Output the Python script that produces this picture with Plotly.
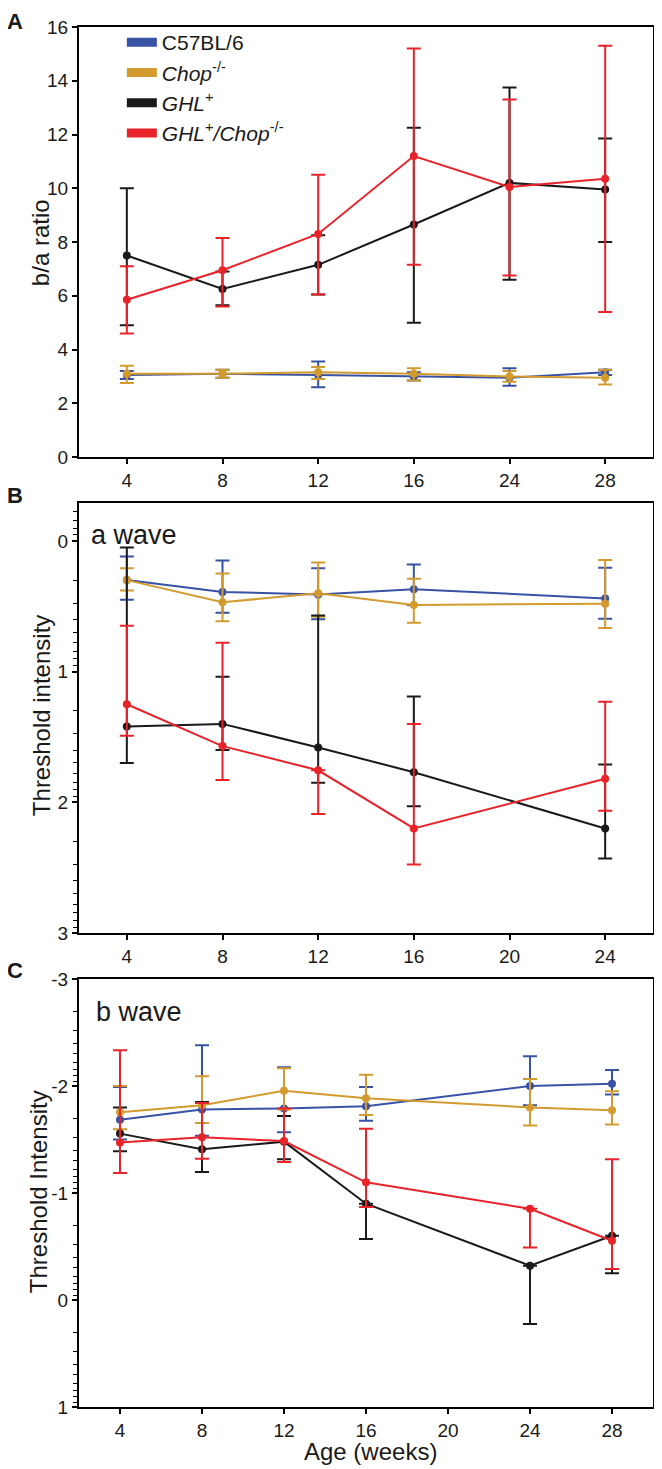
import numpy as np
import plotly.graph_objects as go
from plotly.subplots import make_subplots

# ---- data ----
ages_a = ["4", "8", "12", "16", "24", "28"]
ages_b = [4, 8, 12, 16, 24]
ages_c = [4, 8, 12, 16, 24, 28]

names = ["C57BL/6", "<i>Chop</i><sup>-/-</sup>", "<i>GHL</i><sup>+</sup>",
         "<i>GHL</i><sup>+</sup><i>/Chop</i><sup>-/-</sup>"]
colors = ["#3953a4", "#d39b2e", "#1a1a1a", "#e8232a"]

# panel A: b/a ratio (mean, lower bar end, upper bar end)
a_c57_mean = [3.05, 3.10, 3.05, 3.00, 2.95, 3.15]
a_c57_lo = [2.90, 2.95, 2.60, 2.85, 2.65, 3.05]
a_c57_hi = [3.20, 3.25, 3.55, 3.15, 3.30, 3.25]
a_chop_mean = [3.10, 3.10, 3.15, 3.10, 3.00, 2.95]
a_chop_lo = [2.75, 2.95, 2.90, 2.85, 2.80, 2.70]
a_chop_hi = [3.40, 3.25, 3.35, 3.30, 3.20, 3.25]
a_ghl_mean = [7.50, 6.25, 7.15, 8.65, 10.20, 9.95]
a_ghl_lo = [4.90, 5.65, 6.05, 5.00, 6.60, 8.00]
a_ghl_hi = [10.00, 6.90, 8.25, 12.25, 13.75, 11.85]
a_ghlchop_mean = [5.85, 6.95, 8.30, 11.20, 10.05, 10.35]
a_ghlchop_lo = [4.60, 5.60, 6.05, 7.15, 6.75, 5.40]
a_ghlchop_hi = [7.10, 8.15, 10.50, 15.20, 13.30, 15.30]

# panel B: a wave threshold intensity
b_c57_mean = [0.30, 0.39, 0.41, 0.37, 0.44]
b_c57_lo = [0.12, 0.15, 0.21, 0.18, 0.205]
b_c57_hi = [0.45, 0.55, 0.60, 0.49, 0.595]
b_chop_mean = [0.30, 0.47, 0.40, 0.49, 0.48]
b_chop_lo = [0.21, 0.25, 0.165, 0.29, 0.147]
b_chop_hi = [0.38, 0.615, 0.58, 0.626, 0.666]
b_ghl_mean = [1.42, 1.40, 1.58, 1.77, 2.20]
b_ghl_lo = [0.05, 1.04, 0.57, 1.19, 1.71]
b_ghl_hi = [1.70, 1.60, 1.85, 2.03, 2.43]
b_ghlchop_mean = [1.25, 1.57, 1.755, 2.20, 1.82]
b_ghlchop_lo = [0.65, 0.78, 1.755, 1.40, 1.23]
b_ghlchop_hi = [1.49, 1.83, 2.09, 2.475, 2.065]

# panel C: b wave threshold intensity
c_c57_mean = [-1.685, -1.78, -1.79, -1.81, -2.00, -2.02]
c_c57_lo = [-1.99, -2.38, -2.175, -1.99, -2.277, -2.15]
c_c57_hi = [-1.50, -1.535, -1.567, -1.676, -1.82, -1.92]
c_chop_mean = [-1.754, -1.82, -1.956, -1.885, -1.80, -1.773]
c_chop_lo = [-2.00, -2.09, -2.165, -2.106, -2.065, -1.95]
c_chop_hi = [-1.595, -1.654, -1.78, -1.73, -1.63, -1.64]
c_ghl_mean = [-1.555, -1.41, -1.48, -0.90, -0.32, -0.60]
c_ghl_lo = [-1.80, -1.85, -1.72, -0.90, -0.32, -0.60]
c_ghl_hi = [-1.39, -1.196, -1.315, -0.57, 0.224, -0.25]
c_ghlchop_mean = [-1.473, -1.52, -1.486, -1.10, -0.853, -0.554]
c_ghlchop_lo = [-2.333, -1.84, -1.79, -1.60, -0.853, -1.315]
c_ghlchop_hi = [-1.187, -1.32, -1.29, -0.87, -0.49, -0.29]

b_ticks = [0, 1, 2, 3]
c_ticks = [-3, -2, -1, 0, 1]
c_ticktext = ["-3", "-2", "-1", "0", "1"]

panel_a = [(a_c57_mean, a_c57_lo, a_c57_hi), (a_chop_mean, a_chop_lo, a_chop_hi),
           (a_ghl_mean, a_ghl_lo, a_ghl_hi), (a_ghlchop_mean, a_ghlchop_lo, a_ghlchop_hi)]
panel_b = [(b_c57_mean, b_c57_lo, b_c57_hi), (b_chop_mean, b_chop_lo, b_chop_hi),
           (b_ghl_mean, b_ghl_lo, b_ghl_hi), (b_ghlchop_mean, b_ghlchop_lo, b_ghlchop_hi)]
panel_c = [(c_c57_mean, c_c57_lo, c_c57_hi), (c_chop_mean, c_chop_lo, c_chop_hi),
           (c_ghl_mean, c_ghl_lo, c_ghl_hi), (c_ghlchop_mean, c_ghlchop_lo, c_ghlchop_hi)]

# page body margin (8px) pushes the figure down/right, so size it to the visible area
OFF = 8
W, H = 662 - OFF, 1469 - OFF
ML, MR, MT, MB = 79 - OFF, 7, 27 - OFF, 62
PW, PH = W - ML - MR, H - MT - MB
FONT = "Arial, Liberation Sans, Helvetica, sans-serif"
INK = "#1a1a1a"


# screen pixel -> paper fraction
def px_x(p):
  return (p - OFF - ML) / PW


def px_y(p):
  return (H - MB - (p - OFF)) / PH


fig = make_subplots(rows=3, cols=1)


def add_panel(xs, series, row):
  for (mean, lo, hi), col in zip(series, colors):
    mean, lo, hi = np.array(mean), np.array(lo), np.array(hi)
    fig.add_trace(go.Scatter(
      x=xs, y=mean, mode="lines+markers", showlegend=False,
      line=dict(color=col, width=2),
      marker=dict(color=col, size=8),
      error_y=dict(type="data", symmetric=False, array=hi - mean,
                   arrayminus=mean - lo, color=col, thickness=2, width=7),
    ), row=row, col=1)


add_panel(ages_a, panel_a, 1)
add_panel(ages_b, panel_b, 2)
add_panel(ages_c, panel_c, 3)

# legend swatches
for i, (nm, col) in enumerate(zip(names, colors)):
  fig.add_trace(go.Scatter(x=[None], y=[None], mode="lines", name=nm, legendgroup=str(i),
                           line=dict(color=col, width=9)), row=1, col=1)

axis_common = dict(showline=True, linecolor="black", linewidth=2, mirror=True,
                   ticks="outside", ticklen=5, tickwidth=1.5, tickcolor="black",
                   showgrid=False, zeroline=False,
                   tickfont=dict(size=19, color=INK, family=FONT))


def log_minor(decades, lo, hi):
  vals = []
  for d in decades:
    for k in range(2, 10):
      v = d + np.log10(k)
      if lo < v < hi:
        vals.append(float(v))
  return vals


minor_style = dict(tickmode="array", ticks="outside", ticklen=4, tickwidth=1, tickcolor="black")

dom_a = [px_y(457), 1.0]
dom_b = [px_y(933), px_y(503)]
dom_c = [0.0, px_y(979)]

fig.update_layout(
  xaxis=dict(axis_common, type="category", range=[-0.5, 5.5], anchor="y"),
  yaxis=dict(axis_common, range=[0, 16], dtick=2, domain=dom_a, anchor="x"),
  xaxis2=dict(axis_common, range=[2, 26], tickvals=[4, 8, 12, 16, 20, 24], anchor="y2"),
  yaxis2=dict(axis_common, range=[3, -0.29], tickvals=b_ticks, domain=dom_b, anchor="x2",
              minor=dict(minor_style, tickvals=log_minor([-1, 0, 1, 2], -0.29, 3))),
  xaxis3=dict(axis_common, range=[2, 30], tickvals=[4, 8, 12, 16, 20, 24, 28], anchor="y3"),
  yaxis3=dict(axis_common, range=[1, -3], tickvals=c_ticks, ticktext=c_ticktext,
              domain=dom_c, anchor="x3",
              minor=dict(minor_style, tickvals=log_minor([-3, -2, -1, 0], -3, 1))),
)

fig.update_layout(
  width=W, height=H,
  margin=dict(l=ML, r=MR, t=MT, b=MB),
  paper_bgcolor="white", plot_bgcolor="white",
  font=dict(family=FONT, color=INK),
  showlegend=True,
  legend=dict(x=px_x(122), y=px_y(22), xanchor="left", yanchor="top",
              bgcolor="rgba(0,0,0,0)", borderwidth=0,
              font=dict(size=21, family=FONT, color=INK),
              itemwidth=30, tracegroupgap=0),
)


def label(txt, xp, yp, size, angle=0, xanchor="center"):
  fig.add_annotation(text=txt, x=px_x(xp), y=px_y(yp), xref="paper", yref="paper",
                     xanchor=xanchor, yanchor="middle", textangle=angle, showarrow=False,
                     font=dict(size=size, family=FONT, color=INK))


# panel letters
for txt, xp, yp in [("A", 15, 22), ("B", 15, 495), ("C", 15, 970)]:
  label("<b>" + txt + "</b>", xp, yp, 22)

# axis titles
label("b/a ratio", 41, 243, 24, angle=-90)
label("Threshold intensity", 41, 716, 24, angle=-90)
label("Threshold Intensity", 38, 1192, 24, angle=-90)
label("Age (weeks)", 372, 1451, 24)

# inner panel labels
label("a wave", 89, 535, 27, xanchor="left")
label("b wave", 94, 1012, 27, xanchor="left")

fig.write_html("out.html")
